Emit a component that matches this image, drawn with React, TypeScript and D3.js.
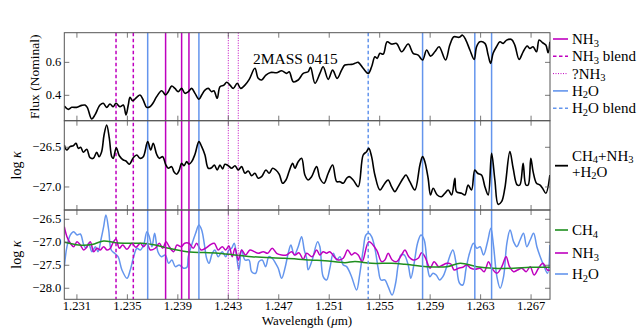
import React from 'react';
import * as d3 from 'd3';

// wavelength (um) / value pairs
const fluxSpectrum: [number, number][] = [
  [1.23000, 0.335], [1.23032, 0.315], [1.23059, 0.327], [1.23098, 0.327], [1.23138, 0.339], [1.23164, 0.341],
  [1.23182, 0.327], [1.23217, 0.256], [1.23243, 0.281], [1.23283, 0.341], [1.23309, 0.352], [1.23336, 0.327],
  [1.23362, 0.347], [1.23388, 0.331], [1.23410, 0.352], [1.23441, 0.331], [1.23468, 0.341], [1.23489, 0.281],
  [1.23507, 0.341], [1.23521, 0.388], [1.23542, 0.367], [1.23574, 0.388], [1.23600, 0.402], [1.23626, 0.371],
  [1.23653, 0.327], [1.23679, 0.331], [1.23705, 0.355], [1.23732, 0.392], [1.23772, 0.428], [1.23803, 0.402],
  [1.23824, 0.422], [1.23851, 0.456], [1.23877, 0.442], [1.23903, 0.422], [1.23930, 0.442], [1.23956, 0.412],
  [1.23983, 0.422], [1.24010, 0.442], [1.24036, 0.412], [1.24067, 0.376], [1.24089, 0.402], [1.24115, 0.432],
  [1.24141, 0.442], [1.24168, 0.422], [1.24186, 0.428], [1.24212, 0.382], [1.24234, 0.452], [1.24265, 0.462],
  [1.24287, 0.479], [1.24313, 0.462], [1.24339, 0.442], [1.24371, 0.473], [1.24398, 0.442], [1.24432, 0.462],
  [1.24466, 0.497], [1.24511, 0.564], [1.24537, 0.503], [1.24564, 0.493], [1.24598, 0.523], [1.24636, 0.539],
  [1.24683, 0.537], [1.24723, 0.549], [1.24762, 0.533], [1.24783, 0.543], [1.24815, 0.482], [1.24854, 0.493],
  [1.24894, 0.533], [1.24933, 0.543], [1.24952, 0.570], [1.24987, 0.473], [1.25026, 0.533], [1.25052, 0.573],
  [1.25092, 0.497], [1.25127, 0.553], [1.25163, 0.503], [1.25198, 0.553], [1.25224, 0.584], [1.25277, 0.588],
  [1.25304, 0.594], [1.25330, 0.600], [1.25369, 0.564], [1.25409, 0.533], [1.25436, 0.573], [1.25462, 0.634],
  [1.25480, 0.624], [1.25502, 0.655], [1.25528, 0.650], [1.25559, 0.725], [1.25594, 0.711], [1.25634, 0.715],
  [1.25674, 0.664], [1.25726, 0.711], [1.25765, 0.655], [1.25805, 0.644], [1.25840, 0.614], [1.25872, 0.675],
  [1.25903, 0.638], [1.25937, 0.664], [1.25971, 0.695], [1.26022, 0.614], [1.26056, 0.705], [1.26088, 0.755],
  [1.26130, 0.752], [1.26157, 0.765], [1.26183, 0.735], [1.26215, 0.675], [1.26249, 0.618], [1.26268, 0.695],
  [1.26294, 0.725], [1.26334, 0.715], [1.26360, 0.644], [1.26379, 0.594], [1.26399, 0.655], [1.26426, 0.695],
  [1.26453, 0.725], [1.26479, 0.715], [1.26506, 0.735], [1.26545, 0.739], [1.26571, 0.705], [1.26605, 0.618],
  [1.26637, 0.664], [1.26669, 0.699], [1.26690, 0.685], [1.26716, 0.695], [1.26743, 0.664], [1.26764, 0.735],
  [1.26791, 0.719], [1.26817, 0.705], [1.26835, 0.658], [1.26849, 0.725],
];

const totalKappa: [number, number][] = [
  [1.23000, -26.471], [1.23019, -26.534], [1.23045, -26.492], [1.23071, -26.480], [1.23093, -26.450], [1.23111, -26.513],
  [1.23130, -26.500], [1.23151, -26.563], [1.23178, -26.525], [1.23204, -26.631], [1.23230, -26.639], [1.23257, -26.563],
  [1.23275, -26.618], [1.23296, -26.555], [1.23315, -26.345], [1.23336, -26.219], [1.23357, -26.387], [1.23376, -26.618],
  [1.23388, -26.639], [1.23412, -26.505], [1.23436, -26.606], [1.23468, -26.660], [1.23489, -26.673], [1.23515, -26.714],
  [1.23547, -26.631], [1.23574, -26.597], [1.23600, -26.639], [1.23626, -26.618], [1.23661, -26.429], [1.23685, -26.534],
  [1.23705, -26.450], [1.23732, -26.588], [1.23753, -26.639], [1.23780, -26.618], [1.23803, -26.714], [1.23824, -26.764],
  [1.23851, -26.744], [1.23869, -26.807], [1.23891, -26.840], [1.23909, -26.798], [1.23930, -26.702], [1.23949, -26.732],
  [1.23970, -26.681], [1.23988, -26.714], [1.24010, -26.681], [1.24036, -26.588], [1.24067, -26.429], [1.24089, -26.492],
  [1.24115, -26.597], [1.24141, -26.764], [1.24168, -26.757], [1.24189, -26.723], [1.24212, -26.786], [1.24234, -26.723],
  [1.24255, -26.773], [1.24273, -26.714], [1.24300, -26.732], [1.24326, -26.764], [1.24353, -26.732], [1.24379, -26.786],
  [1.24406, -26.744], [1.24432, -26.827], [1.24458, -26.798], [1.24485, -26.857], [1.24511, -26.827], [1.24537, -26.890],
  [1.24564, -26.870], [1.24598, -26.786], [1.24624, -26.827], [1.24651, -26.764], [1.24677, -26.786], [1.24704, -26.840],
  [1.24731, -26.953], [1.24757, -26.912], [1.24783, -26.798], [1.24810, -26.702], [1.24828, -26.764], [1.24854, -26.681],
  [1.24881, -26.639], [1.24907, -26.849], [1.24933, -26.912], [1.24960, -26.870], [1.25000, -26.744], [1.25026, -26.890],
  [1.25058, -26.953], [1.25092, -26.827], [1.25127, -26.723], [1.25159, -26.933], [1.25185, -26.933], [1.25211, -26.953],
  [1.25238, -26.890], [1.25258, -26.870], [1.25290, -26.912], [1.25330, -26.996], [1.25369, -26.597], [1.25396, -26.555],
  [1.25414, -26.513], [1.25436, -26.618], [1.25462, -26.849], [1.25502, -27.038], [1.25541, -26.953], [1.25567, -26.912],
  [1.25594, -26.996], [1.25620, -27.059], [1.25647, -26.996], [1.25686, -26.890], [1.25708, -26.849], [1.25739, -26.933],
  [1.25779, -27.038], [1.25819, -26.723], [1.25840, -26.618], [1.25858, -26.681], [1.25884, -26.890], [1.25903, -27.101],
  [1.25924, -27.016], [1.25956, -27.101], [1.25990, -27.122], [1.26017, -27.079], [1.26043, -27.038], [1.26070, -27.101],
  [1.26096, -26.890], [1.26109, -27.059], [1.26149, -27.079], [1.26175, -27.101], [1.26201, -26.975], [1.26228, -27.038],
  [1.26254, -26.786], [1.26276, -26.827], [1.26307, -26.849], [1.26334, -26.996], [1.26360, -27.101], [1.26387, -26.576],
  [1.26413, -26.912], [1.26439, -27.218], [1.26466, -27.185], [1.26492, -27.016], [1.26532, -26.555], [1.26558, -26.764],
  [1.26590, -26.975], [1.26611, -26.975], [1.26637, -26.702], [1.26659, -26.975], [1.26677, -26.975], [1.26698, -26.639],
  [1.26716, -26.807], [1.26743, -26.953], [1.26769, -26.975], [1.26791, -27.016], [1.26817, -27.079], [1.26849, -26.849],
];

const ch4Kappa: [number, number][] = [
  [1.23003, -27.000], [1.23114, -27.059], [1.23219, -27.050], [1.23312, -26.972], [1.23404, -27.009], [1.23510, -27.022],
  [1.23616, -27.022], [1.23721, -27.059], [1.23827, -27.130], [1.23972, -27.204], [1.24220, -27.239], [1.24485, -27.313],
  [1.24749, -27.348], [1.24947, -27.385], [1.25066, -27.400], [1.25224, -27.443], [1.25304, -27.420], [1.25436, -27.457],
  [1.25594, -27.457], [1.25700, -27.478], [1.25874, -27.530], [1.26033, -27.530], [1.26138, -27.457], [1.26270, -27.530],
  [1.26403, -27.565], [1.26561, -27.565], [1.26693, -27.543], [1.26851, -27.543],
];

const nh3Kappa: [number, number][] = [
  [1.23000, -26.660], [1.23021, -26.878], [1.23048, -27.022], [1.23074, -27.096], [1.23101, -26.987], [1.23127, -27.059],
  [1.23154, -27.167], [1.23180, -27.096], [1.23206, -26.987], [1.23233, -27.204], [1.23259, -27.130], [1.23285, -27.167],
  [1.23312, -27.096], [1.23338, -27.167], [1.23365, -27.130], [1.23384, -27.022], [1.23410, -26.930], [1.23436, -27.130],
  [1.23463, -27.059], [1.23497, -27.152], [1.23536, -27.022], [1.23568, -27.109], [1.23602, -27.022], [1.23629, -27.096],
  [1.23655, -27.022], [1.23681, -27.167], [1.23721, -27.130], [1.23753, -27.022], [1.23780, -27.130], [1.23806, -26.987],
  [1.23832, -27.096], [1.23867, -27.204], [1.23893, -27.059], [1.23927, -27.096], [1.23954, -27.022], [1.23988, -27.022],
  [1.24022, -27.130], [1.24049, -27.022], [1.24083, -27.167], [1.24120, -27.130], [1.24155, -27.059], [1.24189, -27.022],
  [1.24220, -27.167], [1.24252, -27.096], [1.24279, -27.167], [1.24305, -27.080], [1.24331, -27.313], [1.24353, -27.130],
  [1.24379, -27.385], [1.24406, -27.167], [1.24437, -27.276], [1.24471, -27.167], [1.24506, -27.204], [1.24537, -27.239],
  [1.24577, -27.204], [1.24612, -27.239], [1.24648, -27.130], [1.24683, -27.239], [1.24723, -27.276], [1.24762, -27.276],
  [1.24802, -27.204], [1.24828, -27.276], [1.24860, -27.226], [1.24894, -27.370], [1.24921, -27.240], [1.24965, -27.313],
  [1.25000, -27.167], [1.25026, -27.276], [1.25052, -27.204], [1.25079, -27.239], [1.25105, -27.204], [1.25139, -27.313],
  [1.25171, -27.385], [1.25211, -27.348], [1.25246, -27.167], [1.25277, -27.276], [1.25304, -27.226], [1.25330, -27.276],
  [1.25361, -27.421], [1.25414, -26.987], [1.25475, -27.167], [1.25515, -27.421], [1.25541, -27.385], [1.25567, -27.239],
  [1.25599, -27.385], [1.25634, -27.421], [1.25674, -27.276], [1.25700, -27.167], [1.25731, -27.313], [1.25765, -27.385],
  [1.25805, -27.348], [1.25832, -27.226], [1.25858, -27.313], [1.25890, -27.530], [1.25900, -27.565], [1.25932, -27.421],
  [1.25967, -27.530], [1.26001, -27.493], [1.26033, -27.457], [1.26064, -27.472], [1.26090, -27.602], [1.26125, -27.565],
  [1.26159, -27.543], [1.26191, -27.493], [1.26223, -27.565], [1.26257, -27.587], [1.26296, -27.565], [1.26328, -27.639],
  [1.26363, -27.421], [1.26389, -27.565], [1.26429, -27.674], [1.26468, -27.530], [1.26502, -27.313], [1.26529, -27.530],
  [1.26561, -27.639], [1.26593, -27.602], [1.26627, -27.565], [1.26661, -27.639], [1.26693, -27.530], [1.26724, -27.711],
  [1.26759, -27.565], [1.26793, -27.457], [1.26830, -27.602], [1.26849, -27.602],
];

const h2oKappa: [number, number][] = [
  [1.23000, -27.530], [1.23021, -27.096], [1.23048, -26.841], [1.23074, -26.770], [1.23101, -26.841], [1.23127, -26.820],
  [1.23154, -27.059], [1.23172, -27.130], [1.23193, -27.022], [1.23219, -27.204], [1.23246, -27.096], [1.23267, -27.204],
  [1.23293, -26.913], [1.23312, -26.660], [1.23330, -26.407], [1.23352, -26.733], [1.23372, -27.167], [1.23399, -27.239],
  [1.23426, -27.313], [1.23457, -27.602], [1.23497, -27.783], [1.23523, -27.602], [1.23550, -27.313], [1.23576, -27.130],
  [1.23602, -27.167], [1.23629, -27.059], [1.23655, -26.770], [1.23674, -26.878], [1.23695, -27.096], [1.23716, -26.804],
  [1.23742, -27.204], [1.23769, -27.313], [1.23800, -27.276], [1.23827, -27.457], [1.23853, -27.385], [1.23880, -27.530],
  [1.23911, -27.493], [1.23946, -27.565], [1.23972, -27.543], [1.23983, -27.313], [1.24014, -27.022], [1.24041, -26.804],
  [1.24067, -26.624], [1.24089, -26.733], [1.24109, -27.022], [1.24128, -27.348], [1.24147, -27.457], [1.24173, -27.239],
  [1.24194, -27.167], [1.24220, -27.313], [1.24252, -27.204], [1.24279, -27.313], [1.24305, -27.167], [1.24326, -27.130],
  [1.24347, -27.022], [1.24366, -27.313], [1.24384, -27.602], [1.24406, -27.167], [1.24432, -27.385], [1.24464, -27.385],
  [1.24485, -27.639], [1.24517, -27.674], [1.24543, -27.421], [1.24569, -27.385], [1.24596, -27.530], [1.24622, -27.313],
  [1.24648, -27.348], [1.24675, -27.457], [1.24696, -27.565], [1.24723, -27.783], [1.24749, -27.565], [1.24775, -27.239],
  [1.24796, -27.059], [1.24823, -27.276], [1.24854, -27.096], [1.24881, -26.878], [1.24902, -27.167], [1.24921, -27.348],
  [1.24933, -27.600], [1.24965, -27.385], [1.25008, -26.987], [1.25026, -27.096], [1.25052, -27.748], [1.25079, -27.820],
  [1.25105, -27.565], [1.25132, -27.239], [1.25159, -27.385], [1.25185, -27.313], [1.25211, -27.493], [1.25238, -27.530],
  [1.25277, -27.748], [1.25317, -28.037], [1.25343, -27.674], [1.25369, -27.167], [1.25391, -26.841], [1.25414, -26.804],
  [1.25436, -26.878], [1.25462, -27.130], [1.25488, -27.565], [1.25510, -27.820], [1.25541, -27.820], [1.25567, -27.965],
  [1.25599, -28.146], [1.25626, -27.891], [1.25647, -27.493], [1.25668, -27.276], [1.25694, -27.276], [1.25726, -27.493],
  [1.25747, -27.783], [1.25773, -27.457], [1.25800, -27.022], [1.25827, -26.841], [1.25853, -26.950], [1.25880, -27.565],
  [1.25898, -27.748], [1.25922, -27.674], [1.25948, -27.711], [1.25975, -27.820], [1.26001, -27.748], [1.26027, -27.565],
  [1.26054, -27.313], [1.26080, -27.167], [1.26106, -27.457], [1.26133, -27.891], [1.26159, -27.928], [1.26185, -27.565],
  [1.26212, -27.239], [1.26244, -27.022], [1.26270, -27.130], [1.26296, -27.096], [1.26323, -27.276], [1.26355, -26.987],
  [1.26381, -26.696], [1.26403, -27.096], [1.26429, -27.748], [1.26455, -28.000], [1.26482, -27.748], [1.26508, -27.022],
  [1.26534, -26.733], [1.26561, -26.987], [1.26587, -27.096], [1.26613, -26.950], [1.26640, -26.804], [1.26666, -27.096],
  [1.26693, -26.950], [1.26720, -26.804], [1.26746, -27.096], [1.26777, -27.348], [1.26804, -27.530], [1.26830, -27.674],
  [1.26849, -27.059],
];

// line identifications
const nh3Lines = [1.23803, 1.2393, 1.23988];
const nh3BlendLines = [1.2341, 1.23547];
const nh3QueryLines = [1.243, 1.24379];
const h2oLines = [1.23661, 1.24067, 1.2584, 1.26254, 1.26387];
const h2oBlendLines = [1.25409];

const xTicks = [1.231, 1.235, 1.239, 1.243, 1.247, 1.251, 1.255, 1.259, 1.263, 1.267];
const fluxTicks = [0.4, 0.6];
const totalTicks = [-26.5, -27.0];
const speciesTicks = [-26.5, -27.0, -27.5, -28.0];

const MAGENTA = '#bf00bf';
const BLUE = '#6495ed';
const GREEN = '#1f8f1f';
const AXIS = '#555';
const FONT = "'Liberation Serif', 'Times New Roman', serif";

const LEFT = 64.3;
const RIGHT = 550;
const TOP = [32.7, 120.7];
const MID = [120.7, 210];
const BOT = [210, 299.3];

const x = d3.scaleLinear().domain([1.23, 1.2685]).range([LEFT, RIGHT]);
const yFlux = d3.scaleLinear().domain([0.246, 0.78]).range([TOP[1], TOP[0]]);
const yTotal = d3.scaleLinear().domain([-27.29, -26.165]).range([MID[1], MID[0]]);
const ySpecies = d3.scaleLinear().domain([-28.24, -26.298]).range([BOT[1], BOT[0]]);

const fmt = (v: number) => d3.format('.1f')(v).replace('-', '\u2212');

const lineFor = (y: d3.ScaleLinear<number, number>) =>
  d3.line<[number, number]>()
    .x(d => x(d[0]))
    .y(d => y(d[1]))
    .curve(d3.curveCatmullRom.alpha(0.5));

const Sub = ({ c }: { c: string }) => <tspan fontSize="10.5" dy="3.5">{c}</tspan>;
const Up = ({ c }: { c: string }) => <tspan dy="-3.5">{c}</tspan>;

function Panel({ id, range, y, ticks }: any) {
  const [t, b] = range;
  return (
    <g>
      <rect x={LEFT} y={t} width={RIGHT - LEFT} height={b - t} fill="none" stroke={AXIS} strokeWidth={1} />
      {xTicks.map(v => (
        <g key={id + v}>
          <line x1={x(v)} x2={x(v)} y1={t} y2={t + 5} stroke={AXIS} strokeWidth={0.8} />
          <line x1={x(v)} x2={x(v)} y1={b} y2={b - 5} stroke={AXIS} strokeWidth={0.8} />
        </g>
      ))}
      {ticks.map((v: number) => (
        <g key={id + 'y' + v}>
          <line x1={LEFT} x2={LEFT + 5} y1={y(v)} y2={y(v)} stroke={AXIS} strokeWidth={0.8} />
          <line x1={RIGHT} x2={RIGHT - 5} y1={y(v)} y2={y(v)} stroke={AXIS} strokeWidth={0.8} />
          <text x={LEFT - 3} y={y(v)} textAnchor="end" dominantBaseline="central" fontSize={12.5}>{fmt(v)}</text>
        </g>
      ))}
    </g>
  );
}

export default function App() {
  const vline = (w: number, color: string, dash: string | undefined, width: number, key: string) => (
    <line key={key} x1={x(w)} x2={x(w)} y1={TOP[0]} y2={BOT[1]} stroke={color} strokeWidth={width} strokeDasharray={dash} />
  );

  const legendTop = [
    { label: <>NH<Sub c="3" /></>, color: MAGENTA, dash: undefined, w: 1.6 },
    { label: <>NH<Sub c="3" /><Up c=" blend" /></>, color: MAGENTA, dash: '3.5,2.5', w: 1.6 },
    { label: <>?NH<Sub c="3" /></>, color: MAGENTA, dash: '1,1.5', w: 1 },
    { label: <>H<Sub c="2" /><Up c="O" /></>, color: BLUE, dash: undefined, w: 1.6 },
    { label: <>H<Sub c="2" /><Up c="O blend" /></>, color: BLUE, dash: '3.5,2.5', w: 1.6 },
  ];
  const legendBot = [
    { label: <>CH<Sub c="4" /></>, color: GREEN, y: 230 },
    { label: <>NH<Sub c="3" /></>, color: MAGENTA, y: 253 },
    { label: <>H<Sub c="2" /><Up c="O" /></>, color: BLUE, y: 274 },
  ];

  return (
    <div style={{ position: 'absolute', left: 0, top: 0 }}>
      <svg width={640} height={333} style={{ display: 'block', background: '#fff' }} fontFamily={FONT}>
        <defs>
          <clipPath id="cTop"><rect x={LEFT} y={TOP[0]} width={RIGHT - LEFT} height={TOP[1] - TOP[0]} /></clipPath>
          <clipPath id="cMid"><rect x={LEFT} y={MID[0]} width={RIGHT - LEFT} height={MID[1] - MID[0]} /></clipPath>
          <clipPath id="cBot"><rect x={LEFT} y={BOT[0]} width={RIGHT - LEFT} height={BOT[1] - BOT[0]} /></clipPath>
        </defs>

        <g clipPath="url(#cBot)" fill="none" strokeWidth={1.5}>
          <path d={lineFor(ySpecies)(h2oKappa) || ''} stroke={BLUE} />
          <path d={lineFor(ySpecies)(nh3Kappa) || ''} stroke={MAGENTA} />
          <path d={lineFor(ySpecies)(ch4Kappa) || ''} stroke={GREEN} />
        </g>

        {nh3Lines.map((w, i) => vline(w, MAGENTA, undefined, 1.5, 'n' + i))}
        {nh3BlendLines.map((w, i) => vline(w, MAGENTA, '3.5,2.5', 1.5, 'nb' + i))}
        {nh3QueryLines.map((w, i) => vline(w, MAGENTA, '1,1.5', 1, 'nq' + i))}
        {h2oLines.map((w, i) => vline(w, BLUE, undefined, 1.5, 'h' + i))}
        {h2oBlendLines.map((w, i) => vline(w, BLUE, '3.5,2.5', 1.5, 'hb' + i))}

        <g fill="none" stroke="#000" strokeWidth={1.6}>
          <path clipPath="url(#cTop)" d={lineFor(yFlux)(fluxSpectrum) || ''} />
          <path clipPath="url(#cMid)" d={lineFor(yTotal)(totalKappa) || ''} />
        </g>

        <Panel id="t" range={TOP} y={yFlux} ticks={fluxTicks} />
        <Panel id="m" range={MID} y={yTotal} ticks={totalTicks} />
        <Panel id="b" range={BOT} y={ySpecies} ticks={speciesTicks} />

        {xTicks.map(v => (
          <text key={'xl' + v} x={x(v)} y={310} textAnchor="middle" fontSize={12.5}>{v.toFixed(3)}</text>
        ))}
        <text x={307} y={325} textAnchor="middle" fontSize={13}>
          Wavelength (<tspan fontStyle="italic">μ</tspan>m)
        </text>

        <text transform={`translate(39,${(TOP[0] + TOP[1]) / 2}) rotate(-90)`} textAnchor="middle" fontSize={13.5}>
          Flux (Nominal)
        </text>
        <text transform={`translate(21,${(MID[0] + MID[1]) / 2}) rotate(-90)`} textAnchor="middle" fontSize={14}>
          log <tspan fontStyle="italic">κ</tspan>
        </text>
        <text transform={`translate(21,${(BOT[0] + BOT[1]) / 2}) rotate(-90)`} textAnchor="middle" fontSize={14}>
          log <tspan fontStyle="italic">κ</tspan>
        </text>

        <text x={253} y={64} fontSize={15.5}>2MASS 0415</text>

        {legendTop.map((d, i) => (
          <g key={'lt' + i}>
            <line x1={553} x2={568} y1={39 + i * 17.3} y2={39 + i * 17.3} stroke={d.color} strokeWidth={d.w} strokeDasharray={d.dash} />
            <text x={572} y={39 + i * 17.3} dominantBaseline="central" fontSize={15}>{d.label}</text>
          </g>
        ))}

        <line x1={555} x2={568} y1={165.7} y2={165.7} stroke="#000" strokeWidth={1.8} />
        <text x={572} y={155.7} dominantBaseline="central" fontSize={15}>
          CH<Sub c="4" /><Up c="+NH" /><Sub c="3" />
        </text>
        <text x={572} y={171.7} dominantBaseline="central" fontSize={15}>
          +H<Sub c="2" /><Up c="O" />
        </text>

        {legendBot.map((d, i) => (
          <g key={'lb' + i}>
            <line x1={555} x2={568} y1={d.y} y2={d.y} stroke={d.color} strokeWidth={1.6} />
            <text x={572} y={d.y} dominantBaseline="central" fontSize={15}>{d.label}</text>
          </g>
        ))}
      </svg>
    </div>
  );
}
